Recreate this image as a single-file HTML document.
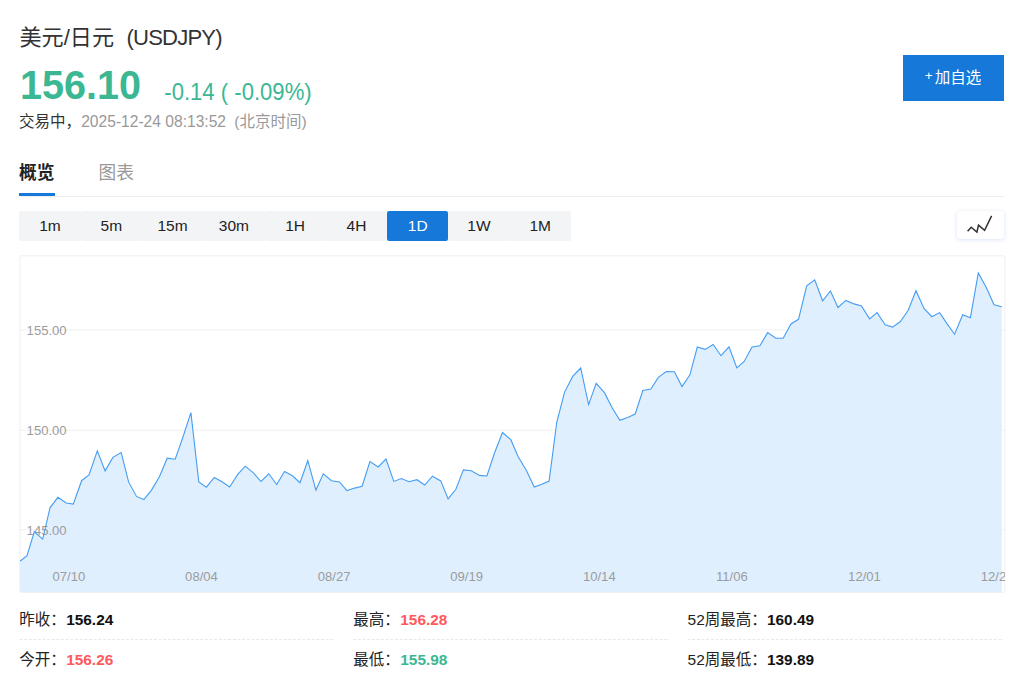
<!DOCTYPE html>
<html lang="zh-CN"><head><meta charset="utf-8"><title>美元/日元 (USDJPY)</title>
<style>
html,body{margin:0;padding:0;background:#fff;}
body{width:1024px;height:679px;position:relative;overflow:hidden;font-family:"Liberation Sans","Noto Sans CJK SC",sans-serif;color:#333;}
.abs{position:absolute;white-space:nowrap;}
.title{left:19.5px;top:22px;font-size:22.1px;line-height:32px;color:#333;}
.code{left:126.6px;top:22px;font-size:22.1px;line-height:32px;color:#333;letter-spacing:-0.85px;}
.price{left:20px;top:62px;font-size:39.6px;line-height:46px;font-weight:bold;color:#3bb793;transform:scaleY(1.04);transform-origin:0 36.7px;}
.chg{left:164.3px;top:78.8px;font-size:22.1px;line-height:28px;color:#3bb793;transform:scaleY(1.04);transform-origin:0 21.7px;}
.time{left:19px;top:111px;font-size:15.5px;line-height:22px;color:#333;}
.time.g{color:#999;}
.tab1{left:19px;top:160px;font-size:17.7px;line-height:26px;font-weight:bold;color:#222;}
.tab2{left:98.6px;top:160px;font-size:17.7px;line-height:26px;color:#999;}
.tabline{left:19.3px;top:193.2px;width:35.4px;height:3.3px;background:#1678d8;}
.sep{left:19.5px;top:196px;width:984.3px;height:1px;background:#eee;}
.add{left:903.1px;top:54.8px;width:100.5px;height:46.1px;background:#1678d8;color:#fff;font-size:15.5px;line-height:46px;text-align:left;text-indent:21.6px;}
.add .pl{font-size:13.6px;position:relative;top:-2.8px;margin-right:2.2px;}
.ib{position:absolute;top:210.7px;width:61.28px;height:30.2px;line-height:30.2px;background:#f3f4f6;border-radius:2px;text-align:center;font-size:15.5px;color:#222;}
.ib.on{background:#1678d8;color:#fff;}
.icon{left:957px;top:210.7px;width:46.7px;height:28.8px;border-radius:3px;background:#fff;box-shadow:0 1px 4px rgba(50,100,220,.16),0 0 1px rgba(50,100,220,.12);}
.st{font-size:15.5px;line-height:22px;color:#222;}
.st.n{font-size:15.4px;}
.st b{font-weight:bold;color:#111;}
.st b.r{color:#ff595d;}
.st b.gr{color:#3bb793;}
svg{position:absolute;left:0;top:0;}
svg text{font-family:"Liberation Sans",sans-serif;font-size:13.1px;fill:#9c9c9c;}
</style></head><body>
<div class="abs title">美元/日元</div>
<div class="abs code">(USDJPY)</div>
<div class="abs price">156.10</div>
<div class="abs chg">-0.14 ( -0.09%)</div>
<div class="abs time">交易中，</div>
<div class="abs time g" style="left:81.2px;font-size:15.6px">2025-12-24 08:13:52</div>
<div class="abs time g" style="left:234.3px">(北京时间)</div>
<div class="abs add"><span class="pl">+</span><span>加自选</span></div>
<div class="abs tab1">概览</div>
<div class="abs tab2">图表</div>
<div class="abs sep"></div>
<div class="abs tabline"></div>
<div class="ib" style="left:19.40px">1m</div><div class="ib" style="left:80.68px">5m</div><div class="ib" style="left:141.96px">15m</div><div class="ib" style="left:203.24px">30m</div><div class="ib" style="left:264.52px">1H</div><div class="ib" style="left:325.80px">4H</div><div class="ib on" style="left:387.08px">1D</div><div class="ib" style="left:448.36px">1W</div><div class="ib" style="left:509.64px">1M</div>
<div class="abs icon"></div>
<svg width="1024" height="679" viewBox="0 0 1024 679">
<defs><clipPath id="cp"><rect x="20" y="256" width="985" height="336.3"/></clipPath></defs>
<rect x="19.9" y="255.8" width="985" height="336.5" rx="2" fill="#fff" stroke="#eeeeee" stroke-width="1"/>
<g stroke="#f0f0f0" stroke-width="1"><line x1="20" y1="330" x2="1005" y2="330"/><line x1="20" y1="430.2" x2="1005" y2="430.2"/><line x1="20" y1="529.8" x2="1005" y2="529.8"/></g>
<g clip-path="url(#cp)">
<polygon points="20.0,561.3 27.0,555.6 34.3,531.8 42.7,539.1 50.0,507.8 57.9,497.3 66.2,503.0 73.3,504.1 81.6,480.7 89.0,475.0 97.3,450.9 105.1,470.9 112.9,457.4 121.2,452.5 128.6,481.9 136.5,496.4 143.9,499.5 151.5,490.1 159.4,476.8 167.2,458.2 175.2,459.2 182.9,437.2 190.9,412.6 198.8,481.9 206.4,487.2 214.3,477.4 222.0,481.7 229.7,487.0 237.7,474.4 245.3,466.2 253.4,472.9 261.0,481.5 268.8,473.8 276.7,484.6 284.5,471.5 292.4,475.8 300.0,482.7 307.8,460.7 315.9,490.1 323.3,473.8 331.5,480.7 339.4,481.9 347.0,490.5 354.6,488.1 362.1,486.2 369.9,461.5 378.2,467.0 386.0,459.0 393.8,481.4 401.3,478.5 409.1,481.7 416.9,479.7 424.8,485.0 432.4,476.2 440.8,480.9 448.1,498.9 455.9,489.3 463.4,469.9 471.2,470.7 479.6,475.4 486.9,476.0 494.7,452.5 502.5,432.5 510.8,439.7 518.2,456.8 526.4,470.5 534.3,487.1 541.7,484.2 549.1,481.1 556.8,422.0 564.6,392.1 572.7,376.4 580.7,368.0 588.6,404.6 596.2,383.3 604.6,392.9 612.1,407.8 619.9,420.3 627.6,417.4 635.2,414.0 642.8,390.5 650.9,389.0 658.3,377.4 666.3,371.5 674.4,371.7 682.0,386.6 689.9,374.8 697.3,347.0 705.1,349.4 713.2,344.5 721.0,355.7 729.0,346.8 736.8,367.8 744.2,361.4 752.0,346.9 759.9,345.7 767.7,332.6 775.9,338.3 783.2,338.3 791.0,324.0 798.5,319.3 806.7,285.8 814.7,279.9 822.6,300.8 830.4,291.0 838.0,307.5 845.9,300.4 854.0,303.9 861.5,305.9 869.6,318.9 877.0,312.6 885.2,324.7 892.5,327.1 900.4,321.5 908.2,310.3 916.0,290.7 924.0,308.4 931.8,316.7 939.6,312.6 947.3,324.1 954.6,334.2 962.7,314.8 970.4,317.7 978.3,273.0 986.4,287.8 994.0,304.8 1001.8,306.7 1001.8,592.3 20.0,592.3" fill="#dfeffe"/>
<g><g transform="translate(0,581.1)"><text x="68.9" y="0" text-anchor="middle">07/10</text><text x="201.5" y="0" text-anchor="middle">08/04</text><text x="334.1" y="0" text-anchor="middle">08/27</text><text x="466.7" y="0" text-anchor="middle">09/19</text><text x="599.3" y="0" text-anchor="middle">10/14</text><text x="731.9" y="0" text-anchor="middle">11/06</text><text x="864.5" y="0" text-anchor="middle">12/01</text><text x="997.1" y="0" text-anchor="middle">12/24</text></g></g>
</g>
<g transform="translate(26.6,334.7)"><text x="0" y="0">155.00</text></g><g transform="translate(26.6,434.9)"><text x="0" y="0">150.00</text></g><g transform="translate(26.6,534.5)"><text x="0" y="0">145.00</text></g>
<g clip-path="url(#cp)"><polyline points="20.0,561.3 27.0,555.6 34.3,531.8 42.7,539.1 50.0,507.8 57.9,497.3 66.2,503.0 73.3,504.1 81.6,480.7 89.0,475.0 97.3,450.9 105.1,470.9 112.9,457.4 121.2,452.5 128.6,481.9 136.5,496.4 143.9,499.5 151.5,490.1 159.4,476.8 167.2,458.2 175.2,459.2 182.9,437.2 190.9,412.6 198.8,481.9 206.4,487.2 214.3,477.4 222.0,481.7 229.7,487.0 237.7,474.4 245.3,466.2 253.4,472.9 261.0,481.5 268.8,473.8 276.7,484.6 284.5,471.5 292.4,475.8 300.0,482.7 307.8,460.7 315.9,490.1 323.3,473.8 331.5,480.7 339.4,481.9 347.0,490.5 354.6,488.1 362.1,486.2 369.9,461.5 378.2,467.0 386.0,459.0 393.8,481.4 401.3,478.5 409.1,481.7 416.9,479.7 424.8,485.0 432.4,476.2 440.8,480.9 448.1,498.9 455.9,489.3 463.4,469.9 471.2,470.7 479.6,475.4 486.9,476.0 494.7,452.5 502.5,432.5 510.8,439.7 518.2,456.8 526.4,470.5 534.3,487.1 541.7,484.2 549.1,481.1 556.8,422.0 564.6,392.1 572.7,376.4 580.7,368.0 588.6,404.6 596.2,383.3 604.6,392.9 612.1,407.8 619.9,420.3 627.6,417.4 635.2,414.0 642.8,390.5 650.9,389.0 658.3,377.4 666.3,371.5 674.4,371.7 682.0,386.6 689.9,374.8 697.3,347.0 705.1,349.4 713.2,344.5 721.0,355.7 729.0,346.8 736.8,367.8 744.2,361.4 752.0,346.9 759.9,345.7 767.7,332.6 775.9,338.3 783.2,338.3 791.0,324.0 798.5,319.3 806.7,285.8 814.7,279.9 822.6,300.8 830.4,291.0 838.0,307.5 845.9,300.4 854.0,303.9 861.5,305.9 869.6,318.9 877.0,312.6 885.2,324.7 892.5,327.1 900.4,321.5 908.2,310.3 916.0,290.7 924.0,308.4 931.8,316.7 939.6,312.6 947.3,324.1 954.6,334.2 962.7,314.8 970.4,317.7 978.3,273.0 986.4,287.8 994.0,304.8 1001.8,306.7" fill="none" stroke="#459df3" stroke-width="1.1" stroke-linejoin="miter"/></g>
<g stroke="#e6e6e6" stroke-width="1" stroke-dasharray="2.9 1.74"><line x1="19.4" y1="639.6" x2="335" y2="639.6"/><line x1="353.3" y1="639.6" x2="669.2" y2="639.6"/><line x1="687.6" y1="639.6" x2="1003.6" y2="639.6"/></g>
<polyline points="967.6,231.3 971.2,227.2 976.9,232.1 978.5,225.1 984.6,230.3 991.6,215.9" fill="none" stroke="#333" stroke-width="1.5" stroke-linejoin="miter"/>
</svg>
<div class="abs st" style="left:19.3px;top:609px"><span>昨收：</span></div><div class="abs st n" style="left:66.2px;top:609px"><b>156.24</b></div>
<div class="abs st" style="left:19.3px;top:648.9px"><span>今开：</span></div><div class="abs st n" style="left:66.2px;top:648.9px"><b class="r">156.26</b></div>
<div class="abs st" style="left:353.3px;top:609px"><span>最高：</span></div><div class="abs st n" style="left:400.3px;top:609px"><b class="r">156.28</b></div>
<div class="abs st" style="left:353.3px;top:648.9px"><span>最低：</span></div><div class="abs st n" style="left:400.3px;top:648.9px"><b class="gr">155.98</b></div>
<div class="abs st" style="left:687.6px;top:609px">52<span>周最高：</span></div><div class="abs st n" style="left:767px;top:609px"><b>160.49</b></div>
<div class="abs st" style="left:687.6px;top:648.9px">52<span>周最低：</span></div><div class="abs st n" style="left:767px;top:648.9px"><b>139.89</b></div>
</body></html>
